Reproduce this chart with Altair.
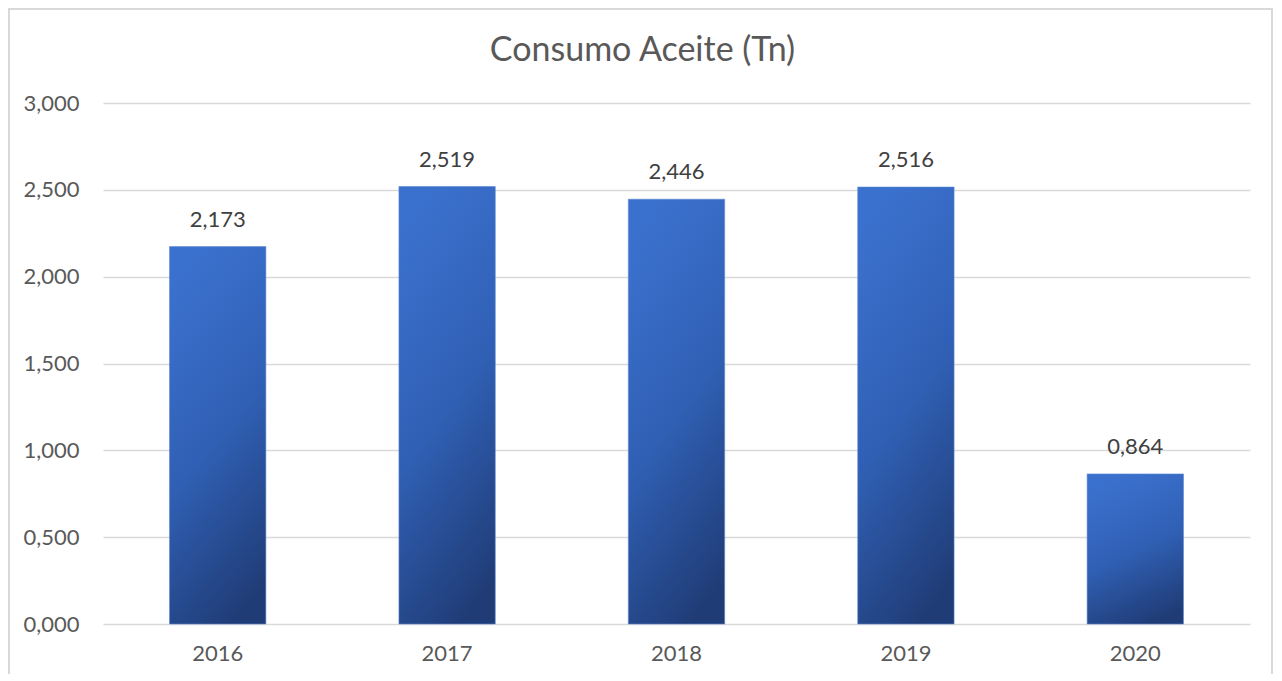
import altair as alt
import pandas as pd

years = ["2016", "2017", "2018", "2019", "2020"]
values = [2.173, 2.519, 2.446, 2.516, 0.864]
y_ticks = [0, 0.5, 1.0, 1.5, 2.0, 2.5, 3.0]

df = pd.DataFrame({"year": years, "value": values})

FONT = "Lato"
GRAY = "#595959"

gradient = alt.Gradient(
    gradient="linear",
    x1=0.35, y1=0, x2=0.65, y2=1,
    stops=[
        alt.GradientStop(offset=0, color="#3B71CE"),
        alt.GradientStop(offset=0.5, color="#3060B5"),
        alt.GradientStop(offset=1, color="#203C76"),
    ],
)

x = alt.X(
    "year:N",
    sort=years,
    scale=alt.Scale(paddingInner=0.58, paddingOuter=0.29),
    axis=alt.Axis(
        title=None, labelAngle=0, ticks=False, domain=False,
        labelFont=FONT, labelFontSize=22, labelColor=GRAY, labelPadding=19,
    ),
)
y = alt.Y(
    "value:Q",
    scale=alt.Scale(domain=[0, 3]),
    axis=alt.Axis(
        title=None, values=y_ticks, ticks=False, domain=False,
        labelFont=FONT, labelFontSize=22, labelColor=GRAY, labelPadding=24,
        gridColor="#D9D9D9", gridWidth=1.5,
        labelExpr="replace(format(datum.value, '.3f'), '.', ',')",
    ),
)

bars = alt.Chart(df).mark_bar(fill=gradient, stroke="#5B86D0", strokeWidth=0.6).encode(x=x, y=y)

labels = alt.Chart(df).transform_calculate(
    lab="replace(format(datum.value, '.3f'), '.', ',')"
).mark_text(
    font=FONT, fontSize=22, color="#404040", baseline="middle", dy=-27
).encode(x=x, y=y, text="lab:N")

frame_df = pd.DataFrame({"k": [0]})
frame = alt.Chart(frame_df).mark_rect(
    fill=None, stroke="#D9D9D9", strokeWidth=2
).encode(
    x=alt.value(-94), x2=alt.value(1169),
    y=alt.value(-94), y2=alt.value(600),
)

chart = alt.layer(frame, bars, labels).properties(
    width=1147,
    height=521,
    background="white",
    title=alt.TitleParams(
        "Consumo Aceite (Tn)", font=FONT, fontSize=34, fontWeight="normal",
        color=GRAY, anchor="middle", frame="group", offset=-60, dx=-34,
    ),
    autosize=alt.AutoSizeParams(type="none"),
    padding={"left": 95, "top": 95, "right": 24, "bottom": 50},
).configure_view(stroke=None)

chart.save("out.html", embed_options={"renderer": "svg", "actions": False})
